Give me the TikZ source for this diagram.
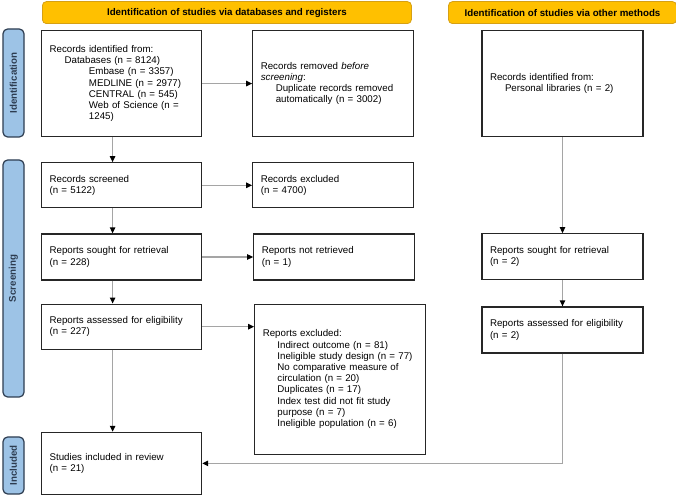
\documentclass[tikz,border=0pt]{standalone}
\usepackage{fontspec}
\setmainfont{Liberation Sans}
\usepackage{xcolor}
\usepackage{tikz}
\usetikzlibrary{arrows.meta,positioning}

\definecolor{hdrfill}{RGB}{255,192,0}
\definecolor{hdrline}{RGB}{214,160,20}
\definecolor{sidefill}{RGB}{157,195,230}
\definecolor{sideline}{RGB}{45,60,80}
\definecolor{linkgray}{RGB}{165,165,165}
\newcommand{\flowfont}{\fontsize{7.3pt}{8.4pt}\selectfont}

\tikzset{
  box/.style={draw=black!85,line width=0.9pt,align=left,inner xsep=6pt,inner ysep=2pt},
  hdr/.style={draw=hdrline,fill=hdrfill,line width=0.6pt,rounded corners=3pt,
    font=\flowfont\bfseries,minimum height=16.5pt},
  side/.style={draw=sideline,fill=sidefill,line width=0.9pt,rounded corners=3.5pt,
    rotate=90,font=\flowfont\bfseries,text=sideline,minimum height=15.75pt},
  link/.style={draw=linkgray,line width=1pt,-{Triangle[length=4.5pt,width=4pt,color=black]}}
}

\begin{document}
\begin{tikzpicture}[x=0.75pt,y=-0.75pt,font=\flowfont,>=Latex]
  \useasboundingbox (0,0) rectangle (676,495);
  % databases and registers
  \node[box,anchor=north west,text width=108pt,minimum height=79.5pt] (id1) at (41,30) {Records identified from:\\
    \hspace*{11.25pt}Databases (n = 8124)\\
    \hspace*{29.5pt}Embase (n = 3357)\\
    \hspace*{29.5pt}MEDLINE (n = 2977)\\
    \hspace*{29.5pt}CENTRAL (n = 545)\\
    \hspace*{29.5pt}Web of Science (n =\\
    \hspace*{29.5pt}1245)};
  \node[box,text width=108.75pt,minimum height=79.5pt,right=37.5pt of id1] (rem) {Records removed \textit{before}\\
    \textit{screening}:\\
    \hspace*{11.25pt}Duplicate records removed\\
    \hspace*{11.25pt}automatically (n = 3002)};
  \node[box,text width=108pt,minimum height=33.75pt,below=18.75pt of id1] (scr) {Records screened\\(n = 5122)};
  \node[box,text width=108.75pt,minimum height=33.75pt,right=37.5pt of scr] (exc) {Records excluded\\(n = 4700)};
  \node[box,text width=108pt,minimum height=34.5pt,below=18.75pt of scr] (sought) {Reports sought for retrieval\\(n = 228)};
  \node[box,text width=108.75pt,minimum height=34.5pt,right=38.25pt of sought] (notret) {Reports not retrieved\\(n = 1)};
  \node[box,text width=108pt,minimum height=33.75pt,below=17.25pt of sought] (assess) {Reports assessed for eligibility\\(n = 227)};
  \node[box,text width=116.25pt,minimum height=112.5pt,right=39pt of assess.north east,anchor=north west] (rexc) {Reports excluded:\\
    \hspace*{11pt}Indirect outcome (n = 81)\\
    \hspace*{11pt}Ineligible study design (n = 77)\\
    \hspace*{11pt}No comparative measure of\\
    \hspace*{11pt}circulation (n = 20)\\
    \hspace*{11pt}Duplicates (n = 17)\\
    \hspace*{11pt}Index test did not fit study\\
    \hspace*{11pt}purpose (n = 7)\\
    \hspace*{11pt}Ineligible population (n = 6)};
  \node[box,text width=108pt,minimum height=46.5pt,below=61.5pt of assess] (incl) {Studies included in review\\(n = 21)};
  % other methods
  \node[box,text width=108.75pt,minimum height=79.5pt,right=50.25pt of rem] (oth) {Records identified from:\\
    \hspace*{11.25pt}Personal libraries (n = 2)};
  \node[box,text width=108.75pt,minimum height=34.5pt,below=72pt of oth] (osought) {Reports sought for retrieval\\(n = 2)};
  \node[box,text width=108.75pt,minimum height=34.5pt,below=19.5pt of osought] (oassess) {Reports assessed for eligibility\\(n = 2)};
  % headers and phases
  \node[hdr,minimum width=276.75pt,above=4.5pt of id1.north west,anchor=south west,xshift=0.75pt] (hdrdb) {Identification of studies via databases and registers};
  \node[hdr,minimum width=171pt,above=4.5pt of oth] (hdroth) {Identification of studies via other methods};
  \node[side,minimum width=81pt] (sideid) at (13.5,83) {Identification};
  \node[side,minimum width=177.75pt] (sidescr) at (13.5,278.5) {Screening};
  \node[side,minimum width=42.75pt] (sideinc) at (13.5,465.5) {Included};
  % connectors
  \draw[link] (id1) -- (rem);
  \draw[link] ([xshift=-6.75pt]id1.south) -- ([xshift=-6.75pt]scr.north);
  \draw[link] (scr) -- (exc);
  \draw[link] ([xshift=-6.75pt]scr.south) -- ([xshift=-6.75pt]sought.north);
  \draw[link] (sought) -- (notret);
  \draw[link] ([xshift=-6.75pt]sought.south) -- ([xshift=-6.75pt]assess.north);
  \draw[link] (assess) -- (assess -| rexc.west);
  \draw[link] ([xshift=-6.75pt]assess.south) -- ([xshift=-6.75pt]incl.north);
  \draw[link] (oth) -- (osought);
  \draw[link] (osought) -- (oassess);
  \draw[link] (oassess) |- (incl);
\end{tikzpicture}
\end{document}
